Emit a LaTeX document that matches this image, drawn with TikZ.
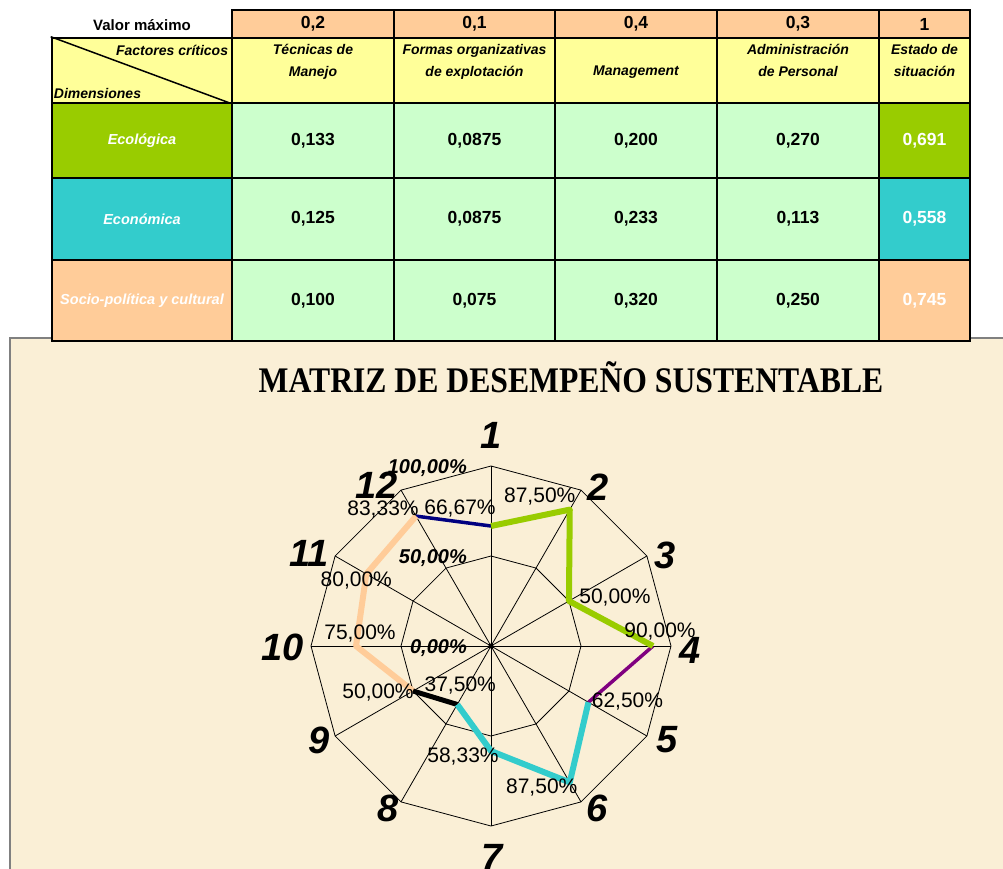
\documentclass[tikz,border=0pt]{standalone}
\usepackage{fontspec}
\setmainfont{Liberation Sans}
\newfontfamily\titulofont[FakeStretch=0.88]{Liberation Serif}
\usepackage{tikz}
\usetikzlibrary{positioning}
\definecolor{naranja}{HTML}{FFCC99}
\definecolor{amarillo}{HTML}{FFFF99}
\definecolor{verdeclaro}{HTML}{CCFFCC}
\definecolor{verde}{HTML}{99CC00}
\definecolor{turquesa}{HTML}{33CCCC}
\definecolor{pergamino}{HTML}{FAEFD6}
\definecolor{marino}{HTML}{000080}
\definecolor{morado}{HTML}{800080}
\tikzset{
  celda/.style={draw, line width=2.6, inner sep=0, font=\fontsize{17.5}{20}\selectfont\bfseries},
  cabecera/.style={align=center, inner sep=0, font=\fontsize{14}{22}\selectfont\bfseries\itshape},
  eje/.style={line width=0.8},
  serie/.style={line width=6, line join=round},
  dato/.style={inner sep=0, font=\fontsize{21}{21}\selectfont},
  escala/.style={inner sep=0, font=\fontsize{20}{20}\selectfont\bfseries\itshape},
  numero/.style={inner sep=0, font=\fontsize{38}{38}\selectfont\bfseries\itshape},
}

\begin{document}
\begin{tikzpicture}[x=1pt,y=-1pt]
  \useasboundingbox (0,0) rectangle (1003,868);
  \begin{scope}
    \clip (0,0) rectangle (1003,868);
    \draw[gray, line width=1.5, fill=pergamino] (10,338) rectangle (1020,890);
  \end{scope}
  \node[font=\titulofont\fontsize{36}{36}\selectfont\bfseries] (titulo) at (571,377) {MATRIZ DE DESEMPEÑO SUSTENTABLE};

  \begin{scope}[shift={(491,646)}]
    \foreach \k in {1,...,12}
      \draw[eje] (0,0) -- ({30*\k-120}:180);
    \foreach \r in {90,180}
      \draw[eje] (-90:\r) \foreach \k in {2,...,12} {-- ({30*\k-120}:\r)} -- cycle;
    \fill (0,0) circle (2.5);
    \foreach \k/\v in {1/120,2/157.5,3/90,4/162,5/112.5,6/157.5,7/105,8/67.5,9/90,10/135,11/144,12/150}
      \coordinate (p\k) at ({30*\k-120}:\v);
    \draw[serie, marino, line width=3.5] (p12) -- (p1);
    \draw[serie, morado, line width=3.5] (p4) -- (p5);
    \draw[serie, naranja] (p9) -- (p10) -- (p11) -- (p12);
    \draw[serie, black, line width=5] (p8) -- (p9);
    \draw[serie, turquesa] (p5) -- (p6) -- (p7) -- (p8);
    \draw[serie, verde] (p1) -- (p2) -- (p3) -- (p4);
    \foreach \k/\t/\dx/\dy in {1/{66,67}/-31/17, 2/{87,50}/-30/13, 3/{50,00}/46/4, 4/{90,00}/7/15,
        5/{62,50}/39/1, 6/{87,50}/-28/-5, 7/{58,33}/-28/-5, 8/{37,50}/3/19,
        9/{50,00}/-35/-1, 10/{75,00}/4/13, 11/{80,00}/-10/-6, 12/{83,33}/-33/7}
      \node[dato, xshift=\dx, yshift=\dy] (t\k) at (p\k) {\t\%};
    \node[escala, anchor=east] (e100) at (-24,-178) {100,00\%};
    \node[escala, anchor=east] (e50) at (-24,-88) {50,00\%};
    \node[escala, anchor=east] (e0) at (-24,2) {0,00\%};
    \foreach \k/\x/\y in {1/0/-211, 2/107/-159, 3/174/-91, 4/199/4, 5/176/94, 6/106/162,
        7/1/211, 8/-103/162, 9/-172/94, 10/-208/1, 11/-182/-93, 12/-114/-161}
      \node[numero] (n\k) at (\x,\y) {\k};
  \end{scope}

  \node[font=\fontsize{15}{18}\selectfont\bfseries] (valor) at (142,25) {Valor máximo};
  \foreach \c/\x/\w/\t in {1/313/162/{0,2}, 2/474.5/161/{0,1}, 3/636/162/{0,4}, 4/798/162/{0,3}, 5/924.5/91/1}
    \node[celda, fill=naranja, minimum width=\w, minimum height=28] (m\c) at (\x,24) {\t};

  \node[celda, fill=amarillo, minimum width=180, minimum height=65] (esq) at (142,70.5) {};
  \draw[line width=1.5] (esq.north west) -- (esq.south east);
  \node[cabecera, below left=8pt and 5pt of esq.north east] (fc) {Factores críticos};
  \node[cabecera, above right=5pt and 3pt of esq.south west] (dim) {Dimensiones};
  \foreach \c/\x/\w/\t in {1/313/162/{Técnicas de\\Manejo}, 2/474.5/161/{Formas organizativas\\de explotación},
      4/798/162/{Administración\\de Personal}, 5/924.5/91/{Estado de\\situación}}
  {
    \node[celda, fill=amarillo, minimum width=\w, minimum height=65] (f\c) at (\x,70.5) {};
    \node[cabecera, below=7pt of f\c.north] (h\c) {\t};
  }
  \node[celda, fill=amarillo, minimum width=162, minimum height=65] (f3) at (636,70.5) {};
  \node[cabecera] (h3) at ([yshift=-2pt]f3.center) {Management};

  \foreach \r/\y/\h/\col/\nom/\va/\vb/\vc/\vd/\ve in {
      1/140.5/75/verde/Ecológica/{0,133}/{0,0875}/{0,200}/{0,270}/{0,691},
      2/219/82/turquesa/Económica/{0,125}/{0,0875}/{0,233}/{0,113}/{0,558},
      3/300.5/81/naranja/{Socio-política y cultural}/{0,100}/{0,075}/{0,320}/{0,250}/{0,745}}
  {
    \node[celda, fill=\col, text=white, font=\fontsize{14.5}{17}\selectfont\bfseries\itshape,
      minimum width=180, minimum height=\h] (d\r) at (142,\y) {\nom};
    \node[celda, fill=verdeclaro, minimum width=162, minimum height=\h] (c\r-1) at (313,\y) {\va};
    \node[celda, fill=verdeclaro, minimum width=161, minimum height=\h] (c\r-2) at (474.5,\y) {\vb};
    \node[celda, fill=verdeclaro, minimum width=162, minimum height=\h] (c\r-3) at (636,\y) {\vc};
    \node[celda, fill=verdeclaro, minimum width=162, minimum height=\h] (c\r-4) at (798,\y) {\vd};
    \node[celda, fill=\col, text=white, minimum width=91, minimum height=\h] (c\r-5) at (924.5,\y) {\ve};
  }
\end{tikzpicture}
\end{document}
